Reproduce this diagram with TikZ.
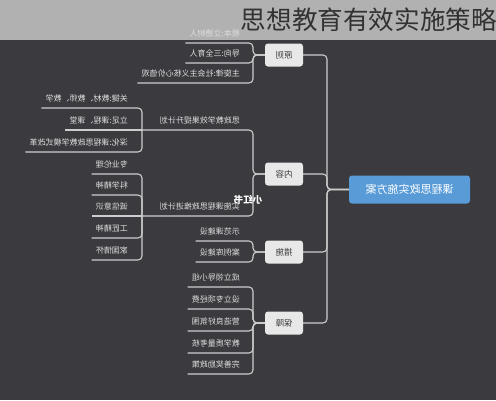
\documentclass[tikz,border=0pt]{standalone}
\usepackage{fontspec}
\usepackage{graphicx}
\newfontfamily\cjk{Noto Sans CJK SC}
\definecolor{bg}{RGB}{59,58,62}
\definecolor{band}{RGB}{177,177,177}
\definecolor{rootblue}{RGB}{88,155,214}
\definecolor{boxfill}{RGB}{232,232,232}
\definecolor{boxtext}{RGB}{60,60,60}
\definecolor{leaftext}{RGB}{222,222,222}
\definecolor{linecol}{RGB}{205,205,205}
\definecolor{titlecol}{RGB}{50,50,50}
\tikzset{
  rootbox/.style={fill=rootblue, rounded corners=3pt, minimum width=121pt, minimum height=28pt, inner sep=0, text=white, font=\cjk\fontsize{11}{11}\selectfont},
  topic/.style={fill=boxfill, rounded corners=3pt, minimum width=38pt, minimum height=23pt, inner sep=0, text=boxtext, font=\cjk\fontsize{8.5}{8.5}\selectfont},
  leaf/.style={anchor=east, inner xsep=4pt, inner ysep=1pt, text=leaftext, font=\cjk\fontsize{8}{8}\selectfont},
  conn/.style={draw=linecol, line width=1.1pt, rounded corners=4pt},
}
\begin{document}
\begin{tikzpicture}[x=1pt,y=-1pt]
\useasboundingbox (0,0) rectangle (496,400);
\fill[bg] (0,0) rectangle (496,400);
\fill[band] (0,0) rectangle (496,40);
\node[anchor=east, inner sep=0, text=titlecol, font=\cjk\fontsize{25.6}{25.6}\selectfont] (title) at (497,20) {思想教育有效实施策略};

% root and main topics
\node[rootbox] (root) at (409.5,189.5) {\reflectbox{课程思政实施方案}};
\node[topic] (yz) at (284,55) {\reflectbox{原则}};
\node[topic] (nr) at (284,174) {\reflectbox{内容}};
\node[topic] (cs) at (284,252) {\reflectbox{措施}};
\node[topic] (bz) at (284,323) {\reflectbox{保障}};

\draw[conn] (root.west) -- (327,189.5) |- (yz.east);
\draw[conn] (root.west) -- (327,189.5) |- (nr.east);
\draw[conn] (root.west) -- (327,189.5) |- (cs.east);
\draw[conn] (root.west) -- (327,189.5) |- (bz.east);

% 原则
\node[leaf] (a1) at (244,33) {\reflectbox{根本:立德树人}};
\node[leaf] (a2) at (244,53) {\reflectbox{导向:三全育人}};
\node[leaf] (a3) at (244,73) {\reflectbox{主旋律:社会主义核心价值观}};
\draw[conn] (yz.west) -- (253,55) |- ([yshift=-10pt]a1.west);
\draw[conn] (yz.west) -- (253,55) |- ([yshift=-10pt]a2.west);
\draw[conn] (yz.west) -- (253,55) |- ([yshift=-10pt]a3.west);

% 内容
\node[leaf] (s1) at (244,120) {\reflectbox{思政教学效果提升计划}};
\node[leaf] (s2) at (244,206) {\reflectbox{实施课程思政推进计划}};
\coordinate (s1a) at (142,130);
\coordinate (s2a) at (142,216);
\draw[conn] (nr.west) -- (253,174) |- (s1a);
\draw[conn] (nr.west) -- (253,174) |- (s2a);

\node[leaf] (b1) at (132,98) {\reflectbox{关键:教材、教师、教学}};
\node[leaf] (b2) at (132,120) {\reflectbox{立足:课程、课堂}};
\node[leaf] (b3) at (132,142) {\reflectbox{深化:课程思政教学模式改革}};
\draw[conn] (s1a) |- ([yshift=-10pt]b1.west);
\draw[conn] (s1a) -- ([yshift=-10pt]b2.west);
\draw[conn] (s1a) |- ([yshift=-10pt]b3.west);

\node[leaf] (d1) at (132,164) {\reflectbox{专业伦理}};
\node[leaf] (d2) at (132,185) {\reflectbox{科学精神}};
\node[leaf] (d3) at (132,206) {\reflectbox{诚信意识}};
\node[leaf] (d4) at (132,228) {\reflectbox{工匠精神}};
\node[leaf] (d5) at (132,250) {\reflectbox{家国情怀}};
\draw[conn] (s2a) |- ([yshift=-10pt]d1.west);
\draw[conn] (s2a) |- ([yshift=-10pt]d2.west);
\draw[conn] (s2a) -- ([yshift=-10pt]d3.west);
\draw[conn] (s2a) |- ([yshift=-10pt]d4.west);
\draw[conn] (s2a) |- ([yshift=-10pt]d5.west);

% 措施
\node[leaf] (e1) at (244,231) {\reflectbox{示范课建设}};
\node[leaf] (e2) at (244,252) {\reflectbox{案例库建设}};
\draw[conn] (cs.west) -- (253,252) |- ([yshift=-10pt]e1.west);
\draw[conn] (cs.west) -- (253,252) |- ([yshift=-10pt]e2.west);

% 保障
\node[leaf] (f1) at (244,277) {\reflectbox{成立领导小组}};
\node[leaf] (f2) at (244,299) {\reflectbox{设立专项经费}};
\node[leaf] (f3) at (244,321) {\reflectbox{营造良好氛围}};
\node[leaf] (f4) at (244,343) {\reflectbox{教学质量考核}};
\node[leaf] (f5) at (244,364) {\reflectbox{完善奖励政策}};
\draw[conn] (bz.west) -- (253,323) |- ([yshift=-10pt]f1.west);
\draw[conn] (bz.west) -- (253,323) |- ([yshift=-10pt]f2.west);
\draw[conn] (bz.west) -- (253,323) |- ([yshift=-10pt]f3.west);
\draw[conn] (bz.west) -- (253,323) |- ([yshift=-10pt]f4.west);
\draw[conn] (bz.west) -- (253,323) |- ([yshift=-10pt]f5.west);

% watermark
\node[inner sep=0, text=white, font=\cjk\bfseries\fontsize{9.5}{9.5}\selectfont] (wm) at (248,200) {\reflectbox{小红书}};
\end{tikzpicture}
\end{document}
